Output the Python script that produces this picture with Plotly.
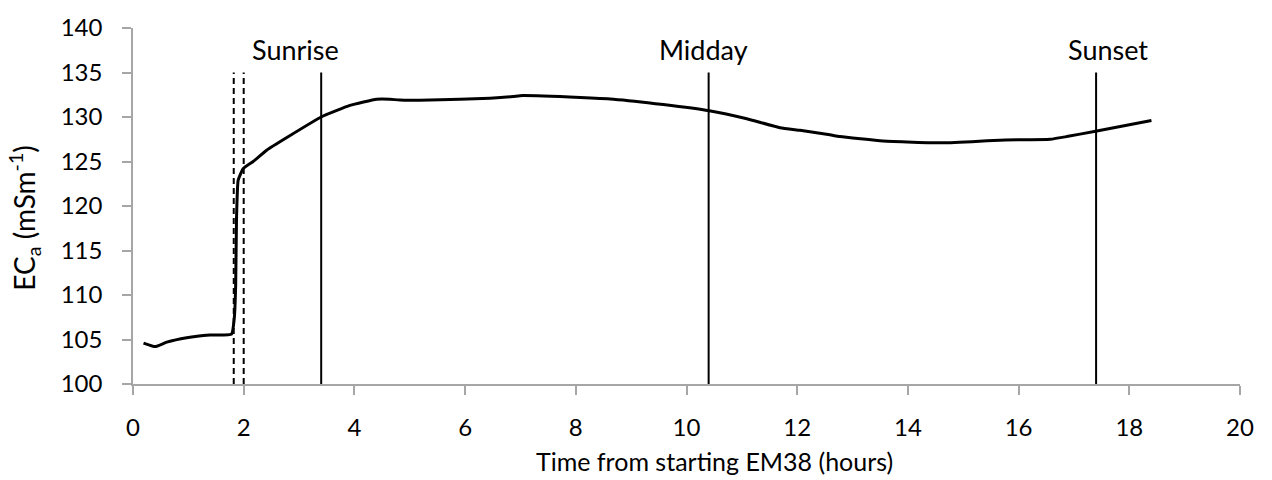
import plotly.graph_objects as go

# EM38 apparent electrical conductivity over the run
time_h = [0.19, 0.40, 0.61, 0.97, 1.39, 1.78, 1.83, 1.855, 1.87, 1.90, 1.99, 2.17,
          2.42, 2.78, 3.40, 3.92, 4.40, 4.64, 4.82, 5.37, 6.45, 6.87, 6.99, 8.08,
          8.68, 9.58, 10.41, 11.09, 11.69, 12.05, 12.59, 12.77, 13.55, 14.64,
          15.66, 16.57, 16.87, 17.39, 18.40]
eca = [104.6, 104.2, 104.7, 105.2, 105.5, 105.6, 107.4, 111.1, 118.5, 122.9, 124.2, 125.0,
       126.3, 127.7, 130.0, 131.3, 132.0, 132.0, 131.9, 131.9, 132.1, 132.3, 132.4, 132.2,
       132.0, 131.4, 130.7, 129.8, 128.8, 128.5, 128.0, 127.8, 127.3, 127.1,
       127.4, 127.5, 127.8, 128.4, 129.6]

# Solar events (solid lines) and the dashed interval markers
event_x = [3.4, 10.4, 17.4]
event_labels = ["Sunrise", "Midday", "Sunset"]
event_label_x = [2.93, 10.30, 17.61]
dashed_x = [1.82, 2.0]
marker_top = 135

x_ticks = list(range(0, 21, 2))
y_ticks = list(range(100, 141, 5))

FONT = "Lato, 'Open Sans', sans-serif"
AXIS_GREY = "#a6a6a6"

fig = go.Figure()
fig.add_trace(go.Scatter(x=time_h, y=eca, mode="lines",
                         line=dict(color="black", width=3, shape="spline", smoothing=0.4),
                         showlegend=False, hoverinfo="skip"))

shapes = []
for xv in dashed_x:
    shapes.append(dict(type="line", xref="x", yref="y", x0=xv, x1=xv, y0=100, y1=marker_top,
                       line=dict(color="black", width=2, dash="6px,4px")))
for xv in event_x:
    shapes.append(dict(type="line", xref="x", yref="y", x0=xv, x1=xv, y0=100, y1=marker_top,
                       line=dict(color="black", width=2)))

annotations = []
for lx, txt in zip(event_label_x, event_labels):
    annotations.append(dict(x=lx, y=137.6, xref="x", yref="y", text=txt, showarrow=False,
                            xanchor="center", yanchor="middle",
                            font=dict(family=FONT, size=27, color="black")))
annotations.append(dict(x=10.5, y=-0.215, xref="x", yref="paper",
                        text="Time from starting EM38 (hours)", showarrow=False,
                        xanchor="center", yanchor="middle",
                        font=dict(family=FONT, size=25, color="black")))
annotations.append(dict(x=-0.0976, y=0.467, xref="paper", yref="paper",
                        text="EC<sub>a</sub> (mSm<sup>-1</sup>)", showarrow=False,
                        textangle=-90, xanchor="center", yanchor="middle",
                        font=dict(family=FONT, size=28, color="black")))

fig.update_layout(
    width=1272, height=480,
    margin=dict(l=133, r=32, t=22, b=96),
    paper_bgcolor="white", plot_bgcolor="white",
    shapes=shapes, annotations=annotations,
    font=dict(family=FONT, size=24, color="black"),
    xaxis=dict(range=[0, 20], tickvals=x_ticks, showgrid=False, zeroline=False,
               showline=True, linecolor=AXIS_GREY, linewidth=1.5,
               ticks="outside", ticklen=9, tickcolor=AXIS_GREY, tickwidth=1.5,
               ticklabelstandoff=12, tickfont=dict(family=FONT, size=24, color="black")),
    yaxis=dict(range=[100, 140], tickvals=y_ticks, showgrid=False, zeroline=False,
               showline=True, linecolor=AXIS_GREY, linewidth=1.5,
               ticks="outside", ticklen=9, tickcolor=AXIS_GREY, tickwidth=1.5,
               ticklabelstandoff=15, tickfont=dict(family=FONT, size=24, color="black")),
)

fig.write_html("out.html")
